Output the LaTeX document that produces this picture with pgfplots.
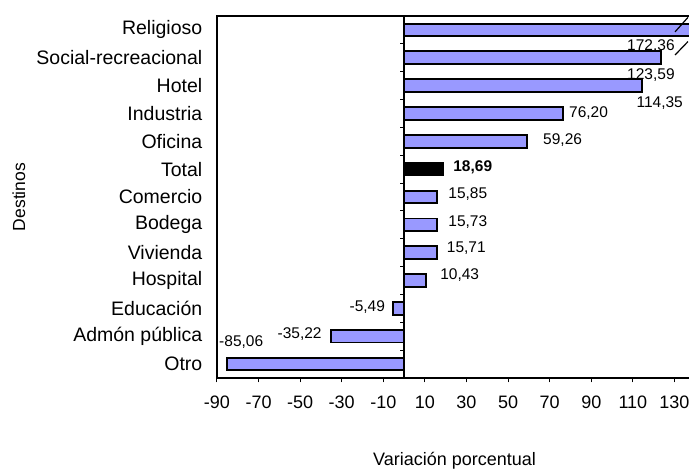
\documentclass[border=0pt]{standalone}
\usepackage{fontspec}
\setmainfont{Liberation Sans}
\usepackage{pgfplots}
\pgfplotsset{compat=1.18}
\definecolor{barblue}{HTML}{9999FF}

\begin{document}
\begin{tikzpicture}
\begin{axis}[
  x=2.08pt, y=27.85pt,
  xmin=-90, xmax=138.5, ymin=-0.5, ymax=12.5,
  xbar, bar width=12.7pt, bar shift=0pt,
  axis line style={line width=1.4pt},
  xtick={-90,-70,...,130},
  xticklabels={-90,-70,-50,-30,-10,10,30,50,70,90,110,130},
  xtick pos=left, tick align=outside, major tick length=4.5pt,
  tick style={line width=1pt, black},
  xticklabel style={font=\fontsize{18}{20}\selectfont, inner sep=0pt, yshift=-13pt},
  ytick={0,...,12},
  yticklabels={Otro, Admón pública, Educación, Hospital, Vivienda, Bodega, Comercio,
    Total, Oficina, Industria, Hotel, Social-recreacional, Religioso},
  ytick style={draw=none},
  yticklabel style={font=\fontsize{19.5}{22}\selectfont, inner sep=0pt, xshift=-10pt},
  xlabel={Variación porcentual},
  xlabel style={font=\fontsize{18}{20}\selectfont, anchor=north, inner sep=0pt,
    at={(axis description cs:0.5,0)}, yshift=-74pt},
  ylabel={Destinos},
  ylabel style={font=\fontsize{17.5}{20}\selectfont, anchor=center, inner sep=0pt,
    at={(axis description cs:-0.4166,0.5)}},
]
  % main bars
  \addplot[fill=barblue, draw=black, line width=1.9pt] coordinates {
    (-85.06,0) (-35.22,1) (-5.49,2) (10.43,3) (15.71,4) (15.73,5) (15.85,6)
    (59.26,8) (76.20,9) (114.35,10) (123.59,11) (172.36,12)};
  % total
  \addplot[fill=black, draw=black, line width=1.9pt] coordinates {(18.69,7)};

  % zero line with ticks
  \draw[line width=1.4pt] (axis cs:0,-0.5) -- (axis cs:0,12.5);
  \pgfplotsinvokeforeach{0.5,1.5,...,11.5}{
    \draw[line width=1pt] (axis cs:0,#1) -- ++(-4.5pt,0pt);
  }

  % break marks on the clipped bar
  \draw[line width=1.2pt] (axis cs:130.3,11.93) -- (axis cs:136.5,12.45);
  \draw[line width=1.2pt] (axis cs:130.3,11.10) -- (axis cs:136.5,11.58);

  % value labels
  \begin{scope}[every node/.style={font=\fontsize{15.5}{17}\selectfont, inner sep=0pt}]
    \node at (axis cs:118.7,11.42) {172,36};
    \node at (axis cs:118.7,10.38) {123,59};
    \node at (axis cs:122.9,9.37) {114,35};
    \node[anchor=west] at (axis cs:79.3,9.02) {76,20};
    \node[anchor=west] at (axis cs:66.8,8.05) {59,26};
    \node[anchor=west, font=\fontsize{15.5}{17}\selectfont\bfseries] at (axis cs:23.6,7.06) {18,69};
    \node[anchor=west] at (axis cs:21.2,6.1) {15,85};
    \node[anchor=west] at (axis cs:21.2,5.11) {15,73};
    \node[anchor=west] at (axis cs:20.5,4.16) {15,71};
    \node[anchor=west] at (axis cs:17.3,3.2) {10,43};
    \node[anchor=east] at (axis cs:-9.1,2.06) {-5,49};
    \node[anchor=east] at (axis cs:-39.6,1.08) {-35,22};
    \node[anchor=west] at (axis cs:-89,0.80) {-85,06};
  \end{scope}

  \coordinate (bl) at (axis cs:-90,-0.5);
  \coordinate (tr) at (axis cs:137,12.5);
\end{axis}
\pgfresetboundingbox
\path[use as bounding box] ([xshift=-217pt,yshift=-92pt]bl) rectangle ([yshift=16pt]tr);
\end{tikzpicture}
\end{document}
